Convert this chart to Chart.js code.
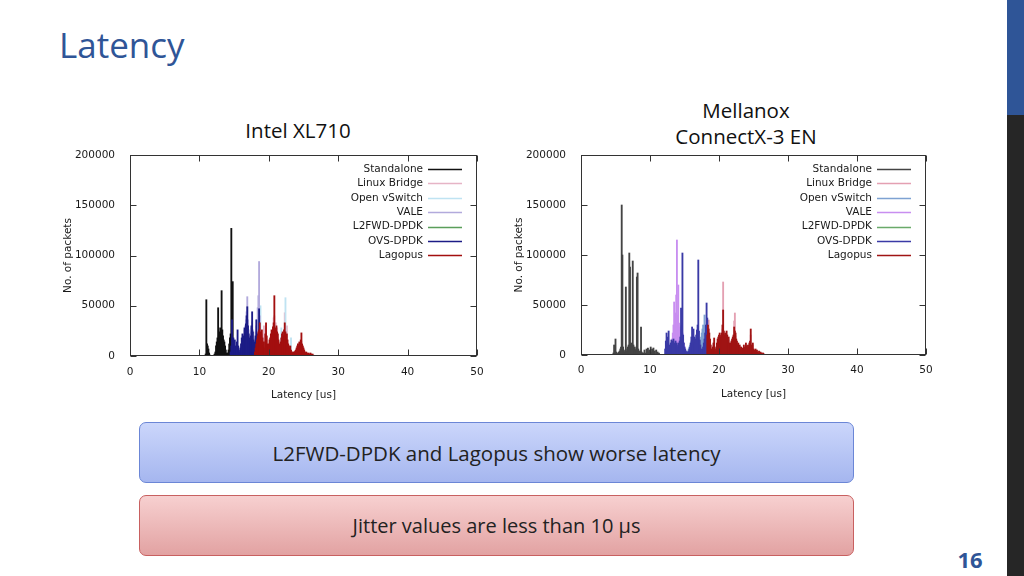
<!DOCTYPE html>
<html><head><meta charset="utf-8">
<script src="https://cdn.jsdelivr.net/npm/chart.js@4.4.0/dist/chart.umd.min.js"></script>
<style>
html,body{margin:0;padding:0;background:#fff;}
#slide{position:relative;width:1024px;height:576px;overflow:hidden;background:#fff;font-family:'Open Sans','Noto Sans',sans-serif;}
#title{position:absolute;left:59px;top:20px;font-size:35px;color:#2f5597;line-height:50px;}
.sub{position:absolute;text-align:center;font-size:20.5px;color:#111;line-height:26px;width:300px;}
#bar1{position:absolute;left:1007px;top:0;width:17px;height:115px;background:#2f5597;}
#bar2{position:absolute;left:1007px;top:115px;width:17px;height:461px;background:#262626;}
.box{position:absolute;left:139px;width:713px;height:59px;border-radius:7px;display:flex;align-items:center;justify-content:center;font-size:20.5px;color:#222;}
#box1{top:422px;background:linear-gradient(#cbd6fb,#a5b6ef);border:1px solid #6b86d6;}
#box2{top:495px;background:linear-gradient(#f7d0d0,#e2a2a2);border:1px solid #c86060;font-size:20px;}
#page{position:absolute;left:945px;top:544px;width:50px;text-align:center;font-size:22px;font-weight:bold;color:#2f5597;}
canvas{position:absolute;}
</style></head>
<body>
<div id="slide">
  <div id="title">Latency</div>
  <div class="sub" style="left:148px;top:117px;">Intel XL710</div>
  <div class="sub" style="left:596px;top:97px;">Mellanox<br>ConnectX-3 EN</div>
  <div id="bar1"></div><div id="bar2"></div>
  <canvas id="c1" width="440" height="270" style="left:50px;top:140px;width:440px;height:270px;"></canvas>
  <canvas id="c2" width="440" height="270" style="left:500px;top:140px;width:440px;height:270px;"></canvas>
  <div class="box" id="box1">L2FWD-DPDK and Lagopus show worse latency</div>
  <div class="box" id="box2">Jitter values are less than 10 µs</div>
  <div id="page">16</div>
</div>
<script>
// ---- data: histogram counts (thousands of packets) in 0.1 us bins, each series with its first bin ----
const BIN = 0.1;      // us per bin
const UNIT = 1000;    // counts are given in thousands of packets
const seriesNames = ['Standalone','Linux Bridge','Open vSwitch','VALE','L2FWD-DPDK','OVS-DPDK','Lagopus'];
const xTicks = [0,10,20,30,40,50];
const yTicks = [0,50000,100000,150000,200000];

// Intel XL710
const intelStandaloneStart = 10.9;
const intelStandalone = [2,56,12,10,7,3,1,0,0,0,0,0,1,2,4,10,14,18,48,20,24,28,22,65,26,20,16,14,10,6,3,2,3,6,12,18,22,127,20,74,14,8,3];
const intelLinuxBridgeStart = 18.2;
const intelLinuxBridge = [8,12,22,20,22,28,20,16,22,14,8,30,6,18,28,16,10,6,10,13,15,18,22,20,25,38,40,24,33,26,28,18,13,10,8,11,15,18,20,17,22,43,20,17,30,13,10,8,6,8,5,3,2,3,2,3,4,5,6,8,10,8,12,10,13,15,10,8,6];
const intelOpenVSwitchStart = 18.6;
const intelOpenVSwitch = [10,20,50,14,10,8,6,8,6,5,8,10,8,6,8,10,12,14,16,18,20,22,24,30,20,18,16,14,10,8,8,10,28,16,18,16,20,28,58,18,16,12,10,8,6,8,18,4,3];
const intelValeStart = 16.0;
const intelVale = [6,10,14,18,22,26,30,36,44,59,36,26,20,18,24,28,34,26,20,16,18,24,30,36,48,60,94,40,24,14,8,4,2];
const intelL2fwdStart = 19.2;
const intelL2fwd = [2,3,4,5,4,3,4,5,6,7,6,5,6,7,8,7,6,5,4,5,6,7,6,5,4,3,2,2,1,1];
const intelOvsDpdkStart = 14.5;
const intelOvsDpdk = [4,10,36,14,18,12,16,10,8,14,26,10,6,4,8,12,18,22,16,20,28,22,32,40,49,30,22,18,14,20,30,44,24,16,12,14,20,36,22,14,20,47,18,10,6,4,2];
const intelLagopusStart = 18.0;
const intelLagopus = [4,8,12,16,20,24,26,33,24,20,26,18,10,14,8,22,33,20,12,8,12,16,18,22,26,24,29,33,60,28,26,30,24,22,16,12,10,14,18,22,24,20,26,33,24,20,22,16,12,10,8,10,6,4,3,4,3,4,5,6,8,10,12,10,14,12,16,23,12,10,8,6,4,3,4,3,2,3,2,2,3,2,1,2,1];

// Mellanox ConnectX-3 EN
const mlxStandaloneStart = 4.7;
const mlxStandalone = [2,10,4,16,3,2,1,2,3,4,6,8,150,100,8,4,3,5,68,4,6,8,10,102,88,10,12,10,94,10,8,6,5,8,78,82,6,4,3,4,28,3,2,1,2,5,2,1,6,2,7,3,5,2,8,3,6,2,7,2,4,1,5,2,3,1,2];
const mlxLinuxBridgeStart = 18.3;
const mlxLinuxBridge = [8,22,35,16,10,6,4,3,6,10,12,5,3,6,10,13,15,17,19,15,17,19,26,73,20,17,19,15,20,17,13,15,10,8,10,12,13,15,17,34,42,19,13,11,8,10,6,8,5,6,4,5,5,8,6,5,10,7,5,8,6,10,12,20,8,6,10,5];
const mlxOpenVSwitchStart = 15.5;
const mlxOpenVSwitch = [4,6,8,10,12,14,10,16,12,10,14,16,18,20,14,10,8,10,14,18,22,26,30,24,40,20,10,6];
const mlxValeStart = 12.8;
const mlxVale = [4,6,8,12,16,22,30,53,36,42,60,115,40,70,32,28,24,26,20,22,16,12,8,6,4,2];
const mlxL2fwdStart = 19.0;
const mlxL2fwd = [2,3,4,3,4,5,6,5,4,5,6,7,6,5,4,5,6,5,4,3,2,2,1];
const mlxOvsDpdkStart = 12.2;
const mlxOvsDpdk = [6,14,22,12,18,24,10,8,12,15,10,14,16,12,10,14,12,10,8,12,10,14,18,47,30,102,20,12,8,6,4,3,2,3,4,6,8,12,18,28,14,26,18,12,16,20,25,30,95,24,15,10,6,4,6,8,12,16,22,30,52,37,20,12,6,3];
const mlxLagopusStart = 18.3;
const mlxLagopus = [20,30,26,22,16,10,6,4,8,12,17,6,4,8,12,16,18,20,22,18,20,22,30,45,24,20,22,18,24,20,16,18,12,10,12,14,16,18,20,28,24,22,16,14,10,12,8,10,6,8,5,7,6,10,8,6,12,9,7,10,8,12,14,26,10,8,12,6,5,4,6,3,5,3,2,4,2,3,2,2,1,2,1];

const intelColors = ['#111111','#e6b4c6','#bfe3f2','#b2aadc','#5a9e5a','#1c1c86','#a30f0f'];
const mlxColors   = ['#444444','#e4a0b2','#7ea2d2','#c88ef0','#6aaa6a','#3a3aa6','#a01414'];

// ---- build ----
function toPoints(start, counts){
  return counts.map((c,i)=>({x: +(start + i*BIN).toFixed(2), y: c*UNIT}));
}
Chart.defaults.font.family = "'DejaVu Sans', sans-serif";
Chart.defaults.font.size = 10.5;
Chart.defaults.color = '#1a1a1a';

const framePlugin = {
  id:'frame',
  afterDatasetsDraw(chart){
    const {ctx, chartArea:a, scales:{x,y}} = chart;
    ctx.save();
    ctx.strokeStyle = '#333'; ctx.lineWidth = 1;
    const L = Math.round(a.left)+0.5, R = Math.round(a.right)-0.5, T = Math.round(a.top)+0.5, B = Math.round(a.bottom)-0.5;
    ctx.strokeRect(L, T, R-L, B-T);
    ctx.beginPath();
    xTicks.forEach(v=>{ const px = Math.round(x.getPixelForValue(v))+0.5;
      ctx.moveTo(px,B); ctx.lineTo(px,B-6); ctx.moveTo(px,T); ctx.lineTo(px,T+6); });
    yTicks.forEach(v=>{ const py = Math.round(y.getPixelForValue(v))+0.5;
      ctx.moveTo(L,py); ctx.lineTo(L+6,py); ctx.moveTo(R,py); ctx.lineTo(R-6,py); });
    ctx.stroke();
    // key
    ctx.font = "10.5px 'DejaVu Sans', sans-serif";
    ctx.textAlign='right'; ctx.textBaseline='middle';
    chart.data.datasets.forEach((d,i)=>{
      const yy = a.top + 14 + i*14.4;
      ctx.fillStyle = '#1a1a1a';
      ctx.fillText(d.label, a.right-54, yy);
      ctx.strokeStyle = d.backgroundColor; ctx.lineWidth = 1.5;
      ctx.beginPath(); ctx.moveTo(a.right-49, Math.round(yy)+0.5); ctx.lineTo(a.right-15, Math.round(yy)+0.5); ctx.stroke();
    });
    ctx.restore();
  }
};

function makeChart(id, series, colors, opt){
  const datasets = series.map((s,i)=>({
    label: seriesNames[i],
    data: toPoints(s[0], s[1]),
    backgroundColor: colors[i],
    borderWidth: 0,
    barThickness: 1.2,
    grouped: false,
    order: 7 - i
  }));
  return new Chart(document.getElementById(id), {
    type:'bar',
    data:{datasets},
    plugins:[framePlugin],
    options:{
      responsive:false, animation:false, devicePixelRatio:1,
      layout:{padding:{top:15,right:opt.padRight,left:0,bottom:0}},
      plugins:{legend:{display:false},tooltip:{enabled:false}},
      scales:{
        x:{type:'linear',min:0,max:50,offset:false,
           afterBuildTicks:s=>{s.ticks = xTicks.map(v=>({value:v}));},
           grid:{display:false},border:{display:false},
           ticks:{padding:opt.xPad,maxRotation:0,autoSkip:false,callback:v=>String(v)},
           title:{display:true,text:'Latency [us]',padding:{top:0,bottom:opt.xTitlePad}},
           afterFit:s=>{s.height = opt.xHeight;}},
        y:{min:0,max:200000,
           afterBuildTicks:s=>{s.ticks = yTicks.map(v=>({value:v}));},
           grid:{display:false},border:{display:false},
           ticks:{padding:7,callback:v=>String(v)},
           title:{display:true,text:'No. of packets',padding:{top:opt.yTitlePad,bottom:0}},
           afterFit:s=>{s.width = opt.yWidth;}}
      }
    }
  });
}

makeChart('c1', [
  [intelStandaloneStart,intelStandalone],[intelLinuxBridgeStart,intelLinuxBridge],[intelOpenVSwitchStart,intelOpenVSwitch],
  [intelValeStart,intelVale],[intelL2fwdStart,intelL2fwd],[intelOvsDpdkStart,intelOvsDpdk],[intelLagopusStart,intelLagopus]
], intelColors, {padRight:13, xHeight:54, yWidth:80, xPad:2, xTitlePad:8, yTitlePad:12});

makeChart('c2', [
  [mlxStandaloneStart,mlxStandalone],[mlxLinuxBridgeStart,mlxLinuxBridge],[mlxOpenVSwitchStart,mlxOpenVSwitch],
  [mlxValeStart,mlxVale],[mlxL2fwdStart,mlxL2fwd],[mlxOvsDpdkStart,mlxOvsDpdk],[mlxLagopusStart,mlxLagopus]
], mlxColors, {padRight:14, xHeight:55, yWidth:81, xPad:1, xTitlePad:9, yTitlePad:13});
</script>
</body></html>
